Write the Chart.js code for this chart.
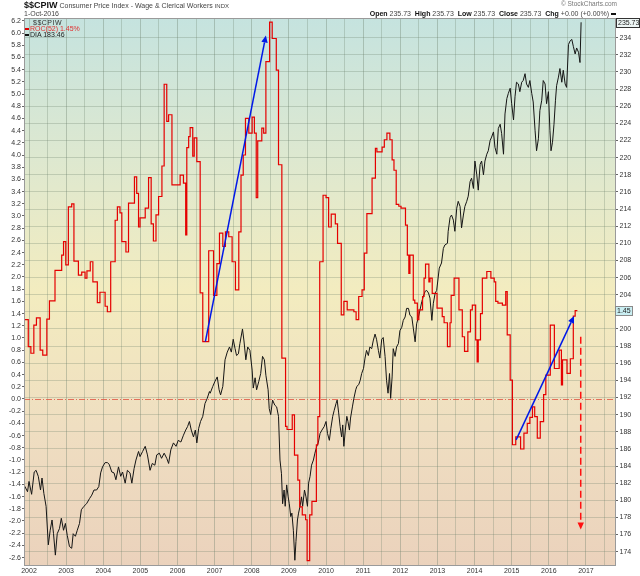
<!DOCTYPE html>
<html>
<head>
<meta charset="utf-8">
<title>$$CPIW ROC(52) vs DIA</title>
<script src="https://cdn.jsdelivr.net/npm/chart.js@4.4.1/dist/chart.umd.min.js"></script>
<style>
    body { margin: 0; background: #fff; }
    #wrap { position: relative; width: 640px; height: 576px; font-family: "Liberation Sans", Arial, sans-serif; }
    #chart { position: absolute; left: 0; top: 0; }
    .txt { position: absolute; white-space: nowrap; color: #444; font-size: 7px; line-height: 8px; }
    .txt b { color: #111; }
    .dash { display: inline-block; width: 4px; height: 1.5px; vertical-align: middle; margin-right: 1px; }
</style>
</head>
<body>
<div id="wrap">
    <canvas id="chart" width="640" height="576"></canvas>

    <div class="txt" style="left:24px; top:1px; font-size:7px;">
        <b style="font-size:9px;">$$CPIW</b> Consumer Price Index - Wage &amp; Clerical Workers <span style="font-size:6px;">INDX</span>
    </div>
    <div class="txt" style="left:24px; top:10px;">1-Oct-2016</div>
    <div class="txt" style="right:23px; top:0px; font-size:6.5px; color:#777;">&copy; StockCharts.com</div>
    <div class="txt" style="right:23px; top:10px;">
        <b>Open</b> 235.73 &nbsp;<b>High</b> 235.73 &nbsp;<b>Low</b> 235.73 &nbsp;<b>Close</b> 235.73 &nbsp;<b>Chg</b> +0.00 (+0.00%) <span class="dash" style="background:#111; width:5px;"></span>
    </div>

    <!-- legend inside the plot -->
    <div class="txt" style="left:33px; top:19px; color:#333; letter-spacing:0.5px; line-height:7px;">$$CPIW</div>
    <div class="txt" style="left:25px; top:25px; color:#e03030; line-height:7px;"><span class="dash" style="background:#e00000;"></span>ROC(52) 1.45%</div>
    <div class="txt" style="left:25px; top:31px; color:#222; line-height:7px;"><span class="dash" style="background:#111;"></span>DIA 183.46</div>
</div>

<script>
// ---------- Data ----------

// Axis tick labels
const yearLabels = ['2002', '2003', '2004', '2005', '2006', '2007', '2008', '2009',
    '2010', '2011', '2012', '2013', '2014', '2015', '2016', '2017'];

const rocTickLabels = ['-2.6', '-2.4', '-2.2', '-2.0', '-1.8', '-1.6', '-1.4', '-1.2', '-1.0',
    '-0.8', '-0.6', '-0.4', '-0.2', '0.0', '0.2', '0.4', '0.6', '0.8', '1.0', '1.2', '1.4',
    '1.6', '1.8', '2.0', '2.2', '2.4', '2.6', '2.8', '3.0', '3.2', '3.4', '3.6', '3.8', '4.0',
    '4.2', '4.4', '4.6', '4.8', '5.0', '5.2', '5.4', '5.6', '5.8', '6.0', '6.2'];

const cpiTickLabels = ['174', '176', '178', '180', '182', '184', '186', '188', '190', '192',
    '194', '196', '198', '200', '202', '204', '206', '208', '210', '212', '214', '216', '218',
    '220', '222', '224', '226', '228', '230', '232', '234'];

// ROC(52) of $$CPIW, step points (decimal year, %)
const rocYears = [
    2001.87, 2001.98, 2002.05, 2002.13, 2002.20, 2002.30, 2002.37, 2002.48, 2002.55, 2002.70,
    2002.88, 2002.93, 2002.99, 2003.06, 2003.15, 2003.21, 2003.33, 2003.42, 2003.51, 2003.56,
    2003.65, 2003.72, 2003.84, 2003.91, 2004.05, 2004.11, 2004.20, 2004.32, 2004.38, 2004.45,
    2004.50, 2004.61, 2004.68, 2004.84, 2004.90, 2004.95, 2004.99, 2005.13, 2005.22, 2005.29,
    2005.35, 2005.42, 2005.49, 2005.58, 2005.64, 2005.71, 2005.76, 2005.85, 2006.07, 2006.16,
    2006.22, 2006.25, 2006.30, 2006.34, 2006.41, 2006.45, 2006.52, 2006.61, 2006.68, 2006.84,
    2006.97, 2007.06, 2007.13, 2007.22, 2007.29, 2007.38, 2007.47, 2007.56, 2007.65, 2007.71,
    2007.77, 2007.83, 2007.92, 2008.01, 2008.07, 2008.12, 2008.16, 2008.27, 2008.32, 2008.38,
    2008.48, 2008.55, 2008.66, 2008.72, 2008.81, 2008.91, 2008.95, 2009.09, 2009.15, 2009.24,
    2009.29, 2009.36, 2009.45, 2009.49, 2009.56, 2009.62, 2009.74, 2009.78, 2009.83, 2009.92,
    2010.00, 2010.07, 2010.14, 2010.25, 2010.31, 2010.41, 2010.48, 2010.57, 2010.75, 2010.81,
    2010.88, 2010.97, 2011.03, 2011.10, 2011.24, 2011.33, 2011.37, 2011.51, 2011.57, 2011.64,
    2011.72, 2011.78, 2011.83, 2011.89, 2011.96, 2012.02, 2012.14, 2012.19, 2012.23, 2012.26,
    2012.35, 2012.39, 2012.46, 2012.50, 2012.60, 2012.64, 2012.68, 2012.77, 2012.80, 2012.86,
    2012.99, 2013.13, 2013.18, 2013.27, 2013.34, 2013.37, 2013.45, 2013.58, 2013.67, 2013.73,
    2013.82, 2013.89, 2013.94, 2014.03, 2014.07, 2014.10, 2014.16, 2014.21, 2014.33, 2014.44,
    2014.53, 2014.57, 2014.63, 2014.75, 2014.84, 2014.88, 2014.96, 2015.02, 2015.11, 2015.24,
    2015.33, 2015.42, 2015.49, 2015.56, 2015.62, 2015.69, 2015.77, 2015.86, 2015.92, 2016.04,
    2016.15, 2016.28, 2016.34, 2016.37, 2016.49, 2016.58, 2016.66, 2016.71, 2016.77
];
const rocValues = [
    1.30, 0.86, 0.75, 1.21, 1.33, 0.80, 0.72, 1.31, 1.61, 2.11,
    2.36, 2.58, 2.20, 3.15, 3.20, 2.26, 2.03, 2.08, 1.98, 2.10,
    2.25, 1.92, 1.58, 1.75, 1.52, 1.43, 2.25, 2.93, 3.15, 3.05,
    2.58, 2.41, 3.21, 3.64, 3.37, 2.82, 2.97, 3.13, 3.63, 2.87,
    2.59, 3.02, 3.32, 3.82, 5.16, 4.55, 4.66, 3.51, 3.67, 3.54,
    2.69, 4.12, 4.30, 4.45, 3.98, 4.28, 3.89, 1.74, 0.94, 2.43,
    1.70, 2.22, 2.72, 2.50, 2.74, 2.66, 2.25, 1.79, 2.74, 3.67,
    4.00, 4.60, 4.36, 4.62, 4.36, 3.30, 4.23, 4.44, 4.36, 5.53,
    6.18, 5.91, 5.39, 3.84, 0.67, -0.45, -0.50, -0.26, -0.92, -1.33,
    -1.77, -1.90, -1.98, -2.65, -1.90, -1.68, -0.75, -0.29, 2.25, 3.34,
    3.30, 2.82, 3.03, 2.87, 2.55, 1.38, 1.60, 1.46, 1.43, 1.30,
    1.68, 1.79, 2.39, 3.04, 3.62, 4.11, 4.05, 4.13, 4.25, 4.36,
    4.25, 3.92, 3.75, 3.19, 3.16, 3.13, 2.85, 2.36, 2.06, 2.36,
    1.62, 1.57, 1.30, 1.46, 1.68, 1.98, 2.21, 1.92, 1.98, 1.73,
    1.49, 1.35, 1.25, 0.86, 1.25, 1.70, 1.98, 1.46, 1.02, 0.78,
    1.10, 1.46, 1.54, 0.97, 0.61, 0.97, 1.40, 1.98, 2.09, 1.98,
    1.92, 1.60, 1.57, 1.54, 1.76, 1.05, 0.31, -0.75, -0.62, -0.82,
    -0.56, -0.40, -0.30, -0.13, -0.29, -0.64, -0.37, 0.07, 0.39, 1.21,
    0.50, 0.80, 0.23, 0.64, 0.42, 0.66, 1.36, 1.45, 1.45
];

// DIA overlay, read in right-axis units (decimal year, value)
const diaYears = [
    2001.85, 2001.89, 2001.96, 2002.00, 2002.07, 2002.14, 2002.19, 2002.25, 2002.31, 2002.35,
    2002.40, 2002.46, 2002.52, 2002.57, 2002.62, 2002.66, 2002.71, 2002.76, 2002.82, 2002.87,
    2002.93, 2002.98, 2003.03, 2003.09, 2003.15, 2003.19, 2003.25, 2003.30, 2003.36, 2003.41,
    2003.48, 2003.55, 2003.63, 2003.69, 2003.75, 2003.82, 2003.88, 2003.93, 2003.98, 2004.05,
    2004.11, 2004.16, 2004.23, 2004.29, 2004.34, 2004.41, 2004.47, 2004.52, 2004.59, 2004.65,
    2004.72, 2004.77, 2004.83, 2004.88, 2004.95, 2004.99, 2005.06, 2005.13, 2005.19, 2005.26,
    2005.32, 2005.39, 2005.44, 2005.51, 2005.57, 2005.64, 2005.71, 2005.76, 2005.82, 2005.89,
    2005.96, 2006.02, 2006.09, 2006.16, 2006.22, 2006.27, 2006.32, 2006.37, 2006.43, 2006.48,
    2006.52, 2006.57, 2006.62, 2006.68, 2006.74, 2006.80, 2006.86,
    2006.88, 2006.95, 2007.01, 2007.07, 2007.12, 2007.16, 2007.22, 2007.28, 2007.34, 2007.40,
    2007.45, 2007.50, 2007.55, 2007.59, 2007.64, 2007.68, 2007.75, 2007.79, 2007.84, 2007.89,
    2007.95, 2008.01, 2008.04, 2008.09, 2008.13, 2008.19, 2008.24, 2008.29, 2008.34, 2008.38,
    2008.44, 2008.47, 2008.51, 2008.56, 2008.62, 2008.67, 2008.72, 2008.76, 2008.80, 2008.83,
    2008.87, 2008.90, 2008.94, 2008.98, 2009.01, 2009.05, 2009.08, 2009.12, 2009.16, 2009.19,
    2009.23, 2009.26, 2009.30, 2009.34, 2009.37, 2009.42, 2009.46, 2009.50, 2009.53, 2009.57,
    2009.61, 2009.66, 2009.70, 2009.75, 2009.79, 2009.84, 2009.89, 2009.95, 2010.00, 2010.04,
    2010.09, 2010.13, 2010.18, 2010.22, 2010.27, 2010.30, 2010.34, 2010.38, 2010.42, 2010.45,
    2010.48, 2010.52, 2010.56, 2010.59, 2010.63, 2010.66, 2010.71, 2010.75, 2010.80, 2010.83,
    2010.88, 2010.92, 2010.96, 2011.01, 2011.05, 2011.09, 2011.14, 2011.18, 2011.23, 2011.27,
    2011.32, 2011.36, 2011.41, 2011.45, 2011.50, 2011.54, 2011.59, 2011.63, 2011.67, 2011.71,
    2011.74, 2011.78, 2011.81, 2011.86, 2011.90, 2011.95, 2011.99, 2012.04, 2012.08, 2012.13,
    2012.17, 2012.22, 2012.26,
    2012.31, 2012.35, 2012.40, 2012.44, 2012.49, 2012.53, 2012.58, 2012.62, 2012.67, 2012.71,
    2012.76, 2012.80, 2012.85, 2012.89, 2012.94, 2012.98,
    2013.05, 2013.11, 2013.16, 2013.20, 2013.27, 2013.29, 2013.34, 2013.38, 2013.43, 2013.47,
    2013.52, 2013.56, 2013.61, 2013.65, 2013.70, 2013.74, 2013.79, 2013.83, 2013.88, 2013.92,
    2013.97, 2014.01, 2014.06, 2014.10, 2014.15, 2014.19, 2014.24, 2014.28, 2014.33, 2014.37,
    2014.42, 2014.46, 2014.51, 2014.55, 2014.60, 2014.64, 2014.69, 2014.73, 2014.78, 2014.82,
    2014.87, 2014.91, 2014.96, 2015.00, 2015.05, 2015.09, 2015.13, 2015.18, 2015.22, 2015.27,
    2015.31, 2015.36, 2015.40, 2015.45, 2015.49, 2015.54, 2015.58, 2015.63, 2015.67, 2015.72,
    2015.76, 2015.81, 2015.85, 2015.90, 2015.94, 2015.99, 2016.03, 2016.06, 2016.10, 2016.14,
    2016.18, 2016.21, 2016.26, 2016.30, 2016.35, 2016.39, 2016.44, 2016.48, 2016.53, 2016.57,
    2016.62, 2016.66, 2016.71, 2016.75, 2016.80, 2016.84, 2016.87
];
const diaValues = [
    181.0, 181.6, 181.0, 182.2, 180.7, 183.3, 183.5, 182.8, 181.2, 182.6,
    180.8, 179.3, 174.8, 176.5, 177.7, 176.1, 173.6, 176.1, 176.7, 177.9,
    176.5, 177.3, 175.9, 174.6, 174.4, 176.1, 175.8, 176.5, 177.3, 178.9,
    179.3, 179.6, 180.2, 180.6, 181.2, 181.2, 181.6, 183.2, 183.9, 184.4,
    184.4, 184.2, 183.3, 183.2, 182.4, 183.9, 182.8, 183.3, 182.0, 183.5,
    183.2, 182.0, 183.7, 184.7, 185.7, 185.1, 185.7, 186.3, 185.3, 183.5,
    184.3, 184.1, 185.3, 185.5, 184.9, 185.5, 184.9, 184.3, 185.9, 186.7,
    186.3, 187.0, 186.8, 187.6, 188.2, 188.6, 189.2, 188.2, 187.4, 188.2,
    186.7, 188.4, 189.2, 189.8, 191.3, 191.9, 192.7,
    192.5, 193.3, 193.9, 194.4, 192.9, 192.3, 193.3, 196.4, 197.3, 197.9,
    197.3, 198.8, 197.7, 196.9, 197.1, 198.3, 200.0, 198.6, 196.4, 197.9,
    197.5, 195.2, 193.1, 194.3, 192.9, 193.9, 194.8, 196.8, 196.4, 194.6,
    192.9, 190.7, 190.0, 191.7, 191.1, 190.9, 189.8, 184.7, 183.1, 179.6,
    181.2, 179.3, 181.8, 180.4, 179.6, 178.1, 178.5, 176.5, 173.0, 175.2,
    177.7, 178.5, 179.3, 180.4, 179.3, 181.2, 180.4, 179.3, 182.0, 182.8,
    184.1, 184.7, 185.5, 186.3, 186.7, 187.8, 188.2, 188.6, 189.2, 187.8,
    187.0, 188.4, 189.8, 190.5, 191.3, 191.7, 190.2, 188.6, 187.4, 188.8,
    186.3, 188.2, 189.8, 189.2, 188.2, 189.6, 190.9, 191.9, 192.9, 193.3,
    193.5, 194.0, 194.8, 195.4, 196.6, 197.5, 196.9, 197.9, 197.7, 198.6,
    199.4, 198.8, 197.5, 196.6, 198.8, 199.0, 196.8, 194.0, 192.5, 194.8,
    191.9, 194.4, 197.7, 196.8, 197.9, 198.3, 199.8, 200.2, 201.0, 201.4,
    202.4, 202.4, 201.6,
    201.4, 200.1, 198.5, 200.6, 201.4, 202.2, 203.2, 203.8, 204.4, 204.5,
    204.2, 203.6, 201.0, 203.0, 204.2, 204.5,
    207.1, 207.7, 209.4, 209.8, 210.0, 211.4, 213.0, 213.3, 212.7, 211.4,
    214.1, 214.9, 214.3, 211.8, 213.3, 214.3, 214.9, 215.5, 217.2, 217.6,
    216.4, 219.6, 218.0, 216.2, 219.2, 219.6, 218.0, 219.6, 220.4, 220.8,
    222.0, 222.4, 223.0, 221.2, 220.4, 223.4, 223.9, 222.8, 220.4, 225.1,
    226.9, 227.5, 228.1, 226.3, 224.4, 227.1, 228.8, 228.6, 227.7, 228.8,
    229.0, 229.8, 228.6, 228.2, 229.0, 227.5, 226.5, 223.2, 220.8, 222.2,
    225.5, 226.7, 229.0, 228.6, 226.3, 227.7, 223.2, 220.8, 221.8, 223.9,
    226.7, 228.4, 229.4, 230.4, 228.8, 230.2, 228.6, 228.2, 233.2, 233.6,
    233.8, 233.0, 232.1, 232.8, 232.3, 231.1, 235.8
];

// Last values shown in the axis boxes
const cpiClose = 235.73;
const rocLast = 1.45;

// Hand-drawn annotations, in data units: [year, roc]
const blueArrows = [
    [[2006.75, 0.94], [2008.38, 5.96]],
    [[2015.12, -0.67], [2016.68, 1.36]]
];
const redArrow = [[2016.86, 1.02], [2016.86, -2.14]];

// ---------- Plugins ----------

// Plot background gradient
const plotBackground = {
    id: 'plotBackground',
    beforeDraw(chart) {
        const { ctx, chartArea: a } = chart;
        const g = ctx.createLinearGradient(0, a.top, 0, a.bottom);
        g.addColorStop(0, '#c5e3df');
        g.addColorStop(0.25, '#dde8d0');
        g.addColorStop(0.5, '#f3ecbf');
        g.addColorStop(0.75, '#efdec1');
        g.addColorStop(1, '#ebd2bc');
        ctx.save();
        ctx.fillStyle = g;
        ctx.fillRect(a.left, a.top, a.width, a.height);
        ctx.restore();
    }
};

function drawArrow(ctx, x1, y1, x2, y2, color, dash) {
    const ang = Math.atan2(y2 - y1, x2 - x1);
    const len = 7, half = 3.2;
    ctx.save();
    ctx.strokeStyle = color;
    ctx.fillStyle = color;
    ctx.lineWidth = 1.5;
    ctx.setLineDash(dash);
    ctx.beginPath();
    ctx.moveTo(x1, y1);
    ctx.lineTo(x2 - Math.cos(ang) * len, y2 - Math.sin(ang) * len);
    ctx.stroke();
    ctx.setLineDash([]);
    ctx.beginPath();
    ctx.moveTo(x2, y2);
    ctx.lineTo(x2 - Math.cos(ang) * len - Math.sin(ang) * half, y2 - Math.sin(ang) * len + Math.cos(ang) * half);
    ctx.lineTo(x2 - Math.cos(ang) * len + Math.sin(ang) * half, y2 - Math.sin(ang) * len - Math.cos(ang) * half);
    ctx.closePath();
    ctx.fill();
    ctx.restore();
}

function valueBox(ctx, x, y, w, text, fill, stroke) {
    ctx.save();
    ctx.fillStyle = fill;
    ctx.strokeStyle = stroke;
    ctx.lineWidth = 1;
    ctx.fillRect(x + 0.5, Math.round(y) - 4.5, w, 9);
    ctx.strokeRect(x + 0.5, Math.round(y) - 4.5, w, 9);
    ctx.fillStyle = '#222';
    ctx.font = '7px "Liberation Sans", Arial, sans-serif';
    ctx.textBaseline = 'middle';
    ctx.fillText(text, x + 2, Math.round(y) + 0.5);
    ctx.restore();
}

const annotations = {
    id: 'annotations',
    beforeDatasetsDraw(chart) {
        // Zero line of the ROC axis
        const { ctx, chartArea: a, scales } = chart;
        const y0 = Math.round(scales.yRoc.getPixelForValue(0)) + 0.5;
        ctx.save();
        ctx.strokeStyle = 'rgba(225, 90, 70, 0.85)';
        ctx.lineWidth = 1;
        ctx.setLineDash([6, 2, 1, 2]);
        ctx.beginPath();
        ctx.moveTo(a.left, y0);
        ctx.lineTo(a.right, y0);
        ctx.stroke();
        ctx.restore();
    },
    afterDatasetsDraw(chart) {
        const { ctx, scales } = chart;
        const px = p => [scales.x.getPixelForValue(p[0]), scales.yRoc.getPixelForValue(p[1])];
        blueArrows.forEach(([from, to]) => {
            const [x1, y1] = px(from), [x2, y2] = px(to);
            drawArrow(ctx, x1, y1, x2, y2, '#0018e8', []);
        });
        const [rx1, ry1] = px(redArrow[0]), [rx2, ry2] = px(redArrow[1]);
        drawArrow(ctx, rx1, ry1, rx2, ry2, '#ff1010', [7, 4]);
    },
    afterDraw(chart) {
        const { ctx, chartArea: a, scales } = chart;
        // Plot frame
        ctx.save();
        ctx.strokeStyle = '#9a9a9a';
        ctx.lineWidth = 1;
        ctx.strokeRect(a.left + 0.5, a.top + 0.5, a.width - 1, a.height - 1);
        ctx.restore();
        // Last-value boxes
        valueBox(ctx, a.right, scales.y.getPixelForValue(cpiClose), 23, cpiClose.toFixed(2), '#eef6f5', '#333');
        valueBox(ctx, a.right - 1, scales.yRoc.getPixelForValue(rocLast), 17, rocLast.toFixed(2), '#c9eef2', '#8a8a8a');
    }
};

// ---------- Chart ----------

const tickFont = { family: '"Liberation Sans", Arial, sans-serif', size: 7 };
const gridColor = 'rgba(105, 125, 105, 0.28)';

const ctx = document.getElementById('chart').getContext('2d');

new Chart(ctx, {
    type: 'line',
    data: {
        datasets: [{
            label: 'ROC(52)',
            data: rocYears.map((x, i) => ({ x, y: rocValues[i] })),
            yAxisID: 'yRoc',
            borderColor: '#e50000',
            borderWidth: 1.2,
            stepped: true,
            pointRadius: 0,
            fill: false
        }, {
            label: 'DIA',
            data: diaYears.map((x, i) => ({ x, y: diaValues[i] })),
            yAxisID: 'y',
            borderColor: '#151515',
            borderWidth: 1,
            tension: 0,
            pointRadius: 0,
            fill: false
        }]
    },
    options: {
        responsive: false,
        animation: false,
        devicePixelRatio: 1,
        layout: { padding: { top: 18, left: 0, right: 0, bottom: 0 } },
        plugins: {
            legend: { display: false },
            tooltip: { enabled: false }
        },
        scales: {
            x: {
                type: 'linear',
                min: 2001.865,
                max: 2017.81,
                bounds: 'data',
                afterBuildTicks: (scale) => {
                    const ticks = [];
                    yearLabels.forEach(y => {
                        ticks.push({ value: Number(y) });
                        ticks.push({ value: Number(y) + 0.5 });
                    });
                    scale.ticks = ticks;
                },
                afterFit: (scale) => { scale.height = 10; },
                border: { display: false },
                grid: {
                    color: (c) => (c.tick && Number.isInteger(c.tick.value)) ? 'rgba(105, 125, 105, 0.36)' : gridColor,
                    drawTicks: false
                },
                ticks: {
                    autoSkip: false,
                    maxRotation: 0,
                    padding: 1,
                    color: '#333',
                    font: tickFont,
                    callback: (value) => yearLabels.includes(String(value)) ? String(value) : ''
                }
            },
            yRoc: {
                type: 'linear',
                position: 'left',
                min: -2.738,
                max: 6.246,
                bounds: 'data',
                afterBuildTicks: (scale) => {
                    scale.ticks = rocTickLabels.map(t => ({ value: Number(t) }));
                },
                afterFit: (scale) => { scale.width = 24; },
                border: { display: false },
                grid: { drawOnChartArea: false, tickLength: 2, tickColor: '#666' },
                ticks: {
                    autoSkip: false,
                    padding: 1,
                    color: '#333',
                    font: tickFont,
                    callback: (value, index) => rocTickLabels[index]
                }
            },
            y: {
                type: 'linear',
                position: 'right',
                min: 172.33,
                max: 236.3,
                bounds: 'data',
                afterBuildTicks: (scale) => {
                    scale.ticks = cpiTickLabels.map(t => ({ value: Number(t) }));
                },
                afterFit: (scale) => { scale.width = 24; },
                border: { display: false },
                grid: { color: gridColor, tickLength: 2, tickColor: '#666' },
                ticks: {
                    autoSkip: false,
                    padding: 1.5,
                    color: '#333',
                    font: tickFont,
                    callback: (value, index) => cpiTickLabels[index]
                }
            }
        }
    },
    plugins: [plotBackground, annotations]
});
</script>
</body>
</html>
